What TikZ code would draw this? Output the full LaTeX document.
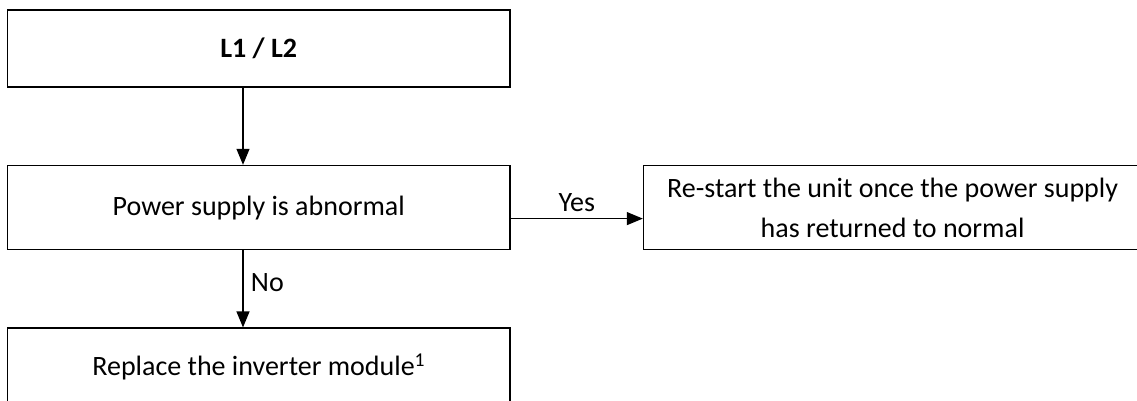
\documentclass[tikz,border=0pt]{standalone}
\usepackage{fontspec}
\setmainfont{Carlito}
\usetikzlibrary{arrows.meta,positioning}
\tikzset{
  blk/.style={draw,rectangle,minimum width=502.5pt,minimum height=77pt,line width=1.6pt,align=center,inner sep=0pt},
  tallblk/.style={blk,minimum height=84pt},
  arr/.style={-{Triangle[length=16pt,width=13pt]},line width=1.2pt},
  lbl/.style={font=\fontsize{28pt}{40pt}\selectfont}
}
\begin{document}
\begin{tikzpicture}[x=1pt,y=1pt,lbl]
  \clip (0,0) rectangle (1137,-401);

  % fault code and check
  \node[blk] (code) at (258.75,-48.5) {\textbf{L1 / L2}};
  \node[tallblk, below=77pt of code] (pwr) {Power supply is abnormal};
  \node[blk, below=77pt of pwr] (repl) {Replace the inverter module\textsuperscript{1}};

  % yes branch
  \node[tallblk, minimum width=498pt, right=132pt of pwr] (restart) {Re-start the unit once the power supply\\has returned to normal};

  \draw[arr] ([xshift=-15.75pt]code.south) -- ([xshift=-15.75pt]pwr.north);
  \draw[arr] ([xshift=-15.75pt]pwr.south) -- ([xshift=-15.75pt]repl.north) node[midway,right=4pt,yshift=6pt]{No};
  \draw[arr] ([yshift=-11pt]pwr.east) -- ([yshift=-11pt]restart.west) node[midway,above=3pt]{Yes};
\end{tikzpicture}
\end{document}
